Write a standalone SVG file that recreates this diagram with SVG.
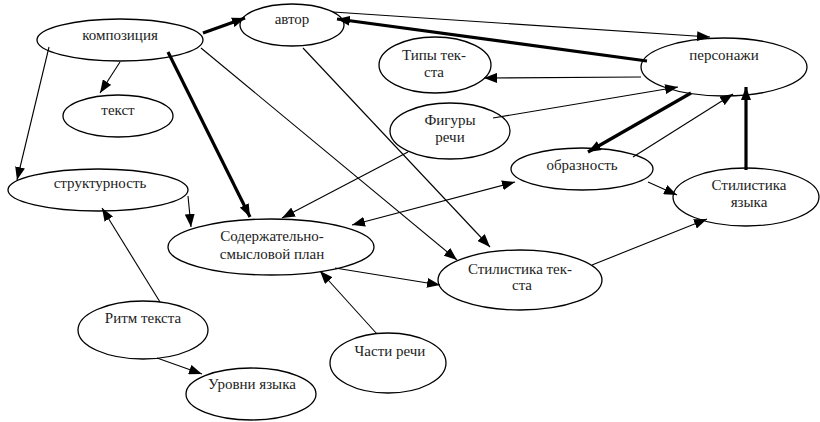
<svg xmlns="http://www.w3.org/2000/svg" width="820" height="422" viewBox="0 0 820 422">
<style>
.n ellipse{fill:#fff;stroke:#000;stroke-width:1.3}
.n text{font-family:'Liberation Serif','Tinos','Times New Roman','DejaVu Serif',serif;font-size:15px;fill:#222;text-anchor:middle}
.e line{stroke:#000;stroke-width:1.1;marker-end:url(#ah)}
.e line.t{stroke-width:3.2}
.e line.d{marker-start:url(#ah)}
</style>
<defs>
<marker id="ah" markerUnits="userSpaceOnUse" markerWidth="13" markerHeight="10" refX="13" refY="5" orient="auto-start-reverse" viewBox="0 0 13 10">
<path d="M0,0 L13,5 L0,10 z" fill="#000"/>
</marker>
</defs>
<rect width="820" height="422" fill="#fff"/>
<g id="nodes" class="n" font-family="'Liberation Serif', 'DejaVu Serif', serif">
<g id="kompoziciya"><ellipse cx="120" cy="40" rx="83" ry="21"/><text x="120" y="40">композиция</text></g>
<g id="avtor"><ellipse cx="292" cy="25" rx="52" ry="21"/><text x="292" y="24">автор</text></g>
<g id="tekst"><ellipse cx="118" cy="116" rx="55" ry="21"/><text x="118" y="115">текст</text></g>
<g id="strukturnost"><ellipse cx="98" cy="190" rx="90" ry="21"/><text x="100" y="188">структурность</text></g>
<g id="soderzhatelno"><ellipse cx="271" cy="247" rx="103" ry="28"/><text x="272" y="241">Содержательно-</text><text x="272" y="259">смысловой план</text></g>
<g id="ritm"><ellipse cx="143" cy="330" rx="65" ry="29"/><text x="143" y="323">Ритм текста</text></g>
<g id="urovni"><ellipse cx="251" cy="394" rx="65" ry="26"/><text x="252" y="389">Уровни языка</text></g>
<g id="chasti"><ellipse cx="388" cy="363" rx="58" ry="30"/><text x="390" y="356">Части речи</text></g>
<g id="stil-teksta"><ellipse cx="520" cy="280" rx="82" ry="30"/><text x="520" y="274">Стилистика тек-</text><text x="522" y="290">ста</text></g>
<g id="personazhi"><ellipse cx="724" cy="67" rx="83" ry="29"/><text x="724" y="60">персонажи</text></g>
<g id="tipy"><ellipse cx="435" cy="65" rx="56" ry="28"/><text x="434" y="60">Типы тек-</text><text x="434" y="77">ста</text></g>
<g id="figury"><ellipse cx="450" cy="131" rx="60" ry="28"/><text x="450" y="125">Фигуры</text><text x="450" y="142">речи</text></g>
<g id="obraznost"><ellipse cx="582" cy="169" rx="71" ry="21"/><text x="582" y="170">образность</text></g>
<g id="stil-yazyka"><ellipse cx="746" cy="197" rx="73" ry="29"/><text x="749" y="190">Стилистика</text><text x="749" y="207">языка</text></g>
</g>
<g id="connectors" class="e">
<line class="t" x1="203" y1="33" x2="245" y2="18"/>
<line class="t" x1="647" y1="61" x2="337" y2="19"/>
<line x1="333" y1="12" x2="710" y2="37"/>
<line x1="120" y1="62" x2="100" y2="93"/>
<line x1="49" y1="47" x2="17" y2="180"/>
<line class="t" x1="168" y1="52" x2="250" y2="217"/>
<line x1="201" y1="48" x2="457" y2="260"/>
<line x1="303" y1="48" x2="490" y2="247"/>
<line x1="493" y1="118" x2="678" y2="87"/>
<line x1="641" y1="77" x2="484" y2="78"/>
<line class="t" x1="691" y1="93" x2="588" y2="152"/>
<line x1="633" y1="157" x2="733" y2="94"/>
<line class="t" x1="746" y1="170" x2="746" y2="87"/>
<line x1="648" y1="182" x2="677" y2="195"/>
<line x1="408" y1="152" x2="282" y2="218"/>
<line class="d" x1="352" y1="225" x2="515" y2="182"/>
<line x1="188" y1="196" x2="191" y2="227"/>
<line x1="335" y1="268" x2="440" y2="285"/>
<line x1="377" y1="334" x2="320" y2="271"/>
<line x1="160" y1="302" x2="102" y2="208"/>
<line x1="157" y1="358" x2="202" y2="374"/>
<line x1="592" y1="265" x2="707" y2="219"/>
</g>
</svg>
